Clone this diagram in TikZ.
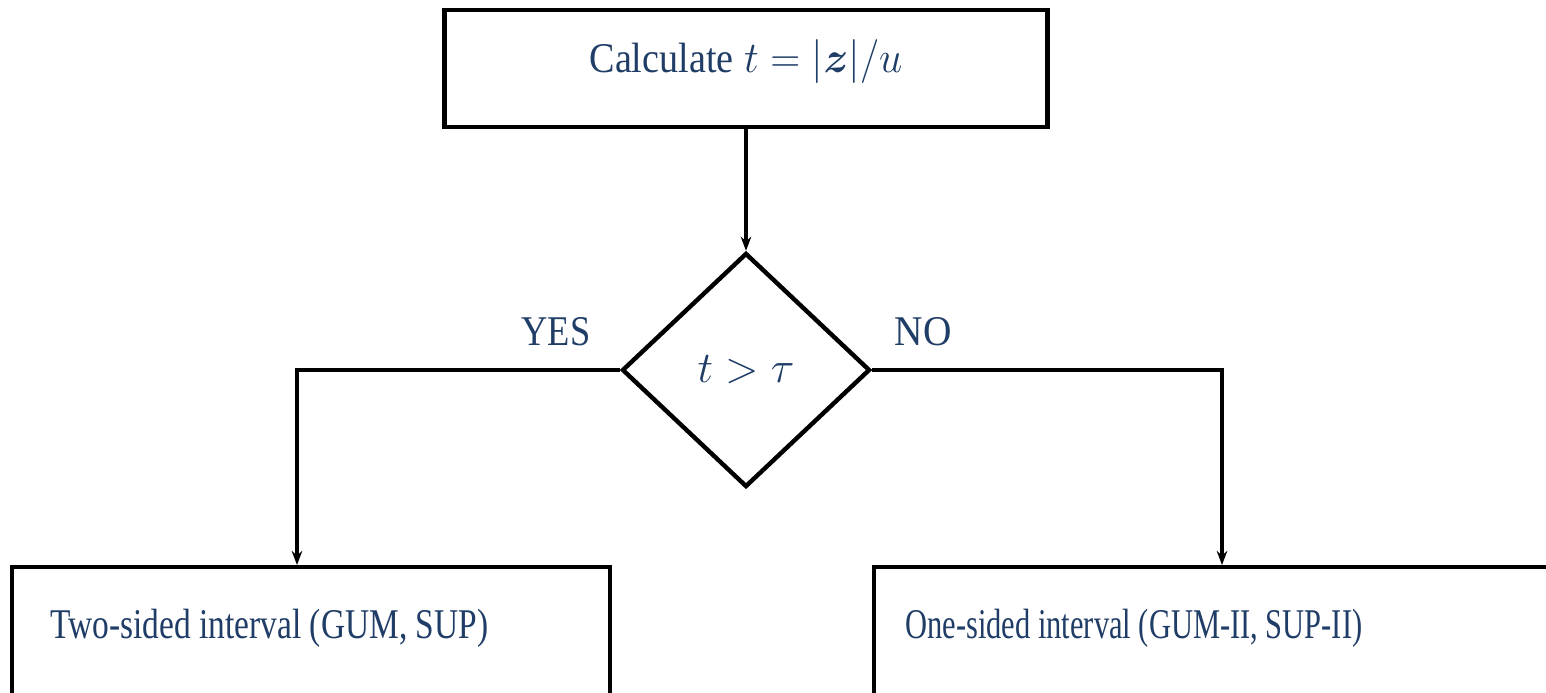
\documentclass[tikz,border=0pt]{standalone}
\usepackage{amsmath}
\usepackage{fontspec}
\setmainfont{Liberation Serif}
\usetikzlibrary{shapes.geometric,arrows.meta}
\definecolor{txtblue}{RGB}{31,61,102}
\newcommand{\narrow}[2]{\scalebox{#1}[1]{#2}}
\tikzset{
  box/.style={draw=black, line width=2.5pt, rectangle, inner sep=0pt},
  decide/.style={draw=black, line width=2.5pt, diamond, inner sep=0pt, aspect=1.06},
  txt/.style={text=txtblue, font=\fontsize{24}{29}\selectfont, inner sep=0pt},
  line/.style={line width=2.5pt},
}
\begin{document}
\begin{tikzpicture}[x=0.567pt, y=-0.567pt, >={Stealth[length=8pt,width=6pt]}]
  \useasboundingbox (0,0) rectangle (1546,692);
  \clip (0,0) rectangle (1546,692);
  % boxes
  \node[box, txt, minimum width=341.9pt, minimum height=66.3pt, text height=12pt, text depth=6.9pt] (calc) at (746,68.5)
    {\narrow{0.9}{Calculate} \narrow{0.95}{$t=|\boldsymbol{z}|/u$}};
  \node[decide, txt, minimum width=140.6pt, minimum height=132.7pt] (test) at (746,370) {$t>\tau$};
  \node[box, minimum width=339pt, minimum height=120pt, anchor=north west] (twoside) at (10,565) {};
  \node[box, minimum width=500pt, minimum height=120pt, anchor=north west] (oneside) at (872,565) {};
  \node[txt, anchor=base west] (twotxt) at (50,638) {\narrow{0.79}{Two-sided interval (GUM, SUP)}};
  \node[txt, anchor=base west] (onetxt) at (905,638) {\narrow{0.72}{One-sided interval (GUM-II, SUP-II)}};
  % arrows
  \coordinate (yesend) at (297,565);
  \coordinate (noend) at (1222,565);
  \draw[line,->] (calc.south) -- (test.north);
  \draw[line,->] (test.west) -| (yesend);
  \draw[line,->] (test.east) -| (noend);
  \node[txt] (yes) at (556,332) {\narrow{0.86}{YES}};
  \node[txt] (no) at (923,332) {\narrow{0.93}{NO}};
\end{tikzpicture}
\end{document}
